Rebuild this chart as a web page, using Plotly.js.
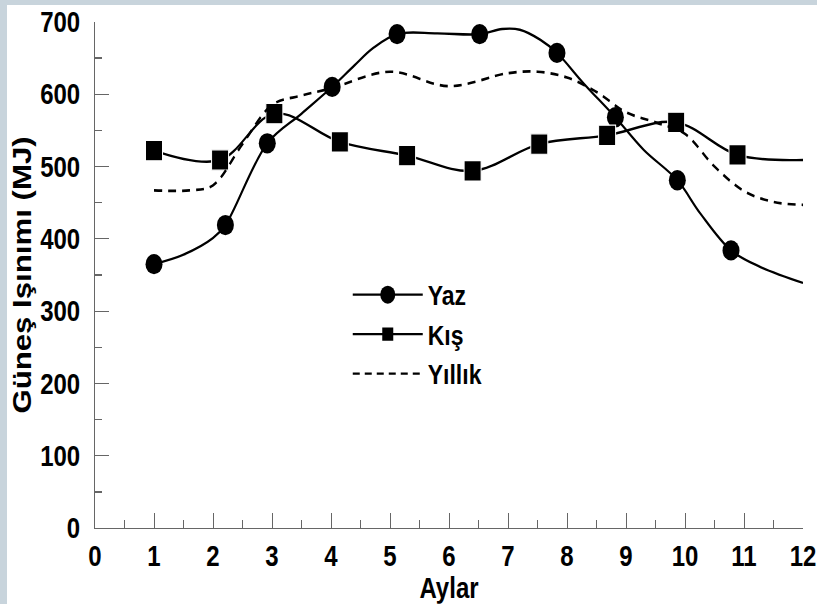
<!DOCTYPE html>
<html><head><meta charset="utf-8">
<script src="https://cdn.plot.ly/plotly-3.0.1.min.js"></script>
<style>
html,body{margin:0;padding:0;background:#c8d4dc;width:817px;height:604px;overflow:hidden;}
#wrap{position:absolute;left:7px;top:5px;width:810px;height:599px;background:#fff;overflow:hidden;}
#chart{width:810px;height:499px;transform:scaleY(1.2);transform-origin:0 0;}
</style></head><body><div id="wrap"><div id="chart"></div></div>
<script>
// Yaz (summer): marker positions
const yazMonths = [1.0, 2.21, 2.92, 4.02, 5.12, 6.52, 7.83, 8.82, 9.87, 10.78];
const yazValues = [365, 419, 532, 610, 683, 683, 657, 568, 481, 384];
// Yaz smooth curve, read along its path
const yazCurveMonths = [1.0, 1.5, 2.0, 2.21, 2.92, 3.5, 4.02, 4.4, 4.72, 5.12, 5.8, 6.52, 6.9, 7.2, 7.55, 7.83, 8.28, 8.82, 9.3, 9.87, 10.26, 10.78, 11.28, 12];
const yazCurveValues = [365, 378, 401, 419, 532, 573, 610, 640, 664, 683, 684, 683, 690, 689, 675, 657, 615, 568, 523, 481, 435, 384, 361, 339];
// Kış (winter): marker positions (last value = curve end at month 12, no marker)
const kisMonths = [1.0, 2.12, 3.04, 4.15, 5.29, 6.40, 7.53, 8.68, 9.85, 10.89, 12];
const kisValues = [522, 509, 573, 534, 515, 494, 531, 543, 561, 516, 509];
// Yıllık (annual) dashed curve, read along its path
const yillikMonths = [1, 1.6, 2, 2.5, 3, 3.5, 4, 5, 6, 7, 7.5, 8, 8.5, 9, 9.5, 10, 10.5, 11, 11.5, 12];
const yillikValues = [467, 467, 474, 531, 585, 598, 608, 631, 611, 629, 631, 623, 603, 575, 561, 545, 500, 466, 451, 447];
const seriesNames = ['Yaz', 'Kış', 'Yıllık'];
const xTitle = 'Aylar';
const yTitle = 'Güneş Işınımı (MJ)';

const F = {family: 'Liberation Sans, Arial, sans-serif', size: 24, color: '#000', weight: 'bold'};
const AX = '#666';
const sizesFor = (arr, s) => arr.map((_, i) => i < arr.length - 1 ? s : 0);

const traces = [
  {x: yazCurveMonths, y: yazCurveValues, mode: 'lines', showlegend: false, hoverinfo: 'skip',
   line: {color: '#000', width: 2, shape: 'spline', smoothing: 1}},
  {x: yazMonths, y: yazValues, mode: 'markers', showlegend: false, hoverinfo: 'skip',
   marker: {symbol: 'circle', color: '#000', size: 17, opacity: 1}},
  {x: kisMonths, y: kisValues, mode: 'lines+markers', showlegend: false, hoverinfo: 'skip',
   line: {color: '#000', width: 2, shape: 'spline'},
   marker: {symbol: 'square', color: '#000', size: sizesFor(kisMonths, 17), opacity: 1}},
  {x: yillikMonths, y: yillikValues, mode: 'lines', showlegend: false, hoverinfo: 'skip',
   line: {color: '#000', width: 2.2, shape: 'spline', dash: '8px,6px'}},
  // legend entries
  {x: [null], y: [null], name: seriesNames[0], mode: 'lines+markers',
   line: {color: '#000', width: 2}, marker: {symbol: 'circle', color: '#000', size: 15}},
  {x: [null], y: [null], name: seriesNames[1], mode: 'lines+markers',
   line: {color: '#000', width: 2}, marker: {symbol: 'square', color: '#000', size: 11}},
  {x: [null], y: [null], name: seriesNames[2], mode: 'lines',
   line: {color: '#000', width: 1.8, dash: '7px,5px'}}
];

const layout = {
  width: 810, height: 499,
  margin: {l: 88, r: 14, t: 14, b: 63, pad: 0},
  paper_bgcolor: '#fff', plot_bgcolor: '#fff',
  font: F,
  showlegend: true,
  legend: {x: 0.357, y: 0.512, xanchor: 'left', yanchor: 'top', bgcolor: 'rgba(0,0,0,0)',
           borderwidth: 0, font: Object.assign({}, F, {size: 23}), itemwidth: 70, traceorder: 'normal'},
  xaxis: {range: [0, 12], tick0: 0, dtick: 1, ticks: 'inside', ticklen: 13, tickwidth: 1, tickcolor: AX,
          showline: true, linecolor: AX, linewidth: 1, showgrid: false, zeroline: false,
          ticklabelstandoff: 2, tickfont: F,
          minor: {ticks: 'inside', ticklen: 6.5, dtick: 0.5, tickcolor: AX, tickwidth: 1, showgrid: false},
          title: {text: xTitle, font: F, standoff: 4}},
  yaxis: {range: [0, 700], tick0: 0, dtick: 100, ticks: 'inside', ticklen: 14, tickwidth: 1, tickcolor: AX,
          showline: true, linecolor: AX, linewidth: 1, showgrid: false, zeroline: false,
          ticklabelstandoff: 9, tickfont: F,
          minor: {ticks: 'inside', ticklen: 7, dtick: 50, tickcolor: AX, tickwidth: 1, showgrid: false},
          title: {text: yTitle, font: Object.assign({}, F, {size: 26}), standoff: 5}}
};

Plotly.newPlot('chart', traces, layout, {displayModeBar: false, staticPlot: true});
</script></body></html>
